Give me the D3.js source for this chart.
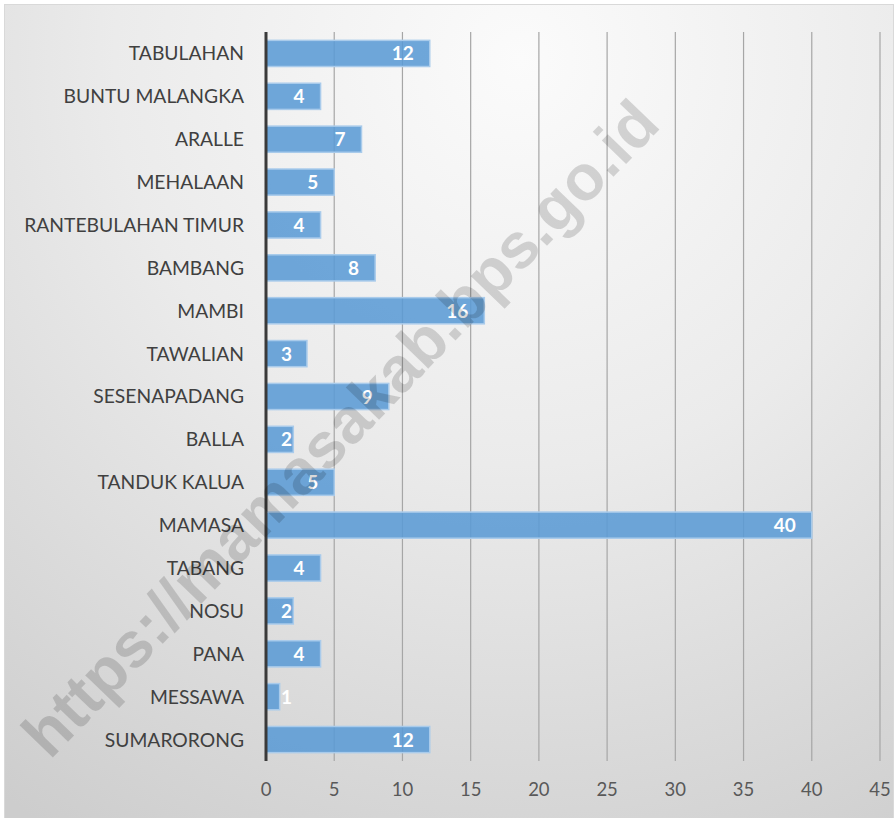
<!DOCTYPE html>
<html>
<head>
<meta charset="utf-8">
<script src="https://cdn.jsdelivr.net/npm/d3@7"></script>
<style>
	body { margin: 0; background: #fff; }
	svg { display: block; }
</style>
</head>
<body>
<svg id="chart"></svg>
<script>
'use strict'

const regions = ["TABULAHAN", "BUNTU MALANGKA", "ARALLE", "MEHALAAN", "RANTEBULAHAN TIMUR",
	"BAMBANG", "MAMBI", "TAWALIAN", "SESENAPADANG", "BALLA", "TANDUK KALUA", "MAMASA",
	"TABANG", "NOSU", "PANA", "MESSAWA", "SUMARORONG"]
const counts = [12, 4, 7, 5, 4, 8, 16, 3, 9, 2, 5, 40, 4, 2, 4, 1, 12]
const xTicks = [0, 5, 10, 15, 20, 25, 30, 35, 40, 45]
const watermark = "https://mamasakab.bps.go.id"

const width = 895, height = 818
const margin = {top: 32, right: 15, bottom: 57, left: 266}

const svg = d3.select("#chart").attr("width", width).attr("height", height)

// background
let defs = svg.append("defs")
let grad = defs.append("radialGradient").attr("id", "bg")
	.attr("gradientUnits", "userSpaceOnUse")
	.attr("cx", 520).attr("cy", 60).attr("r", 900)
grad.append("stop").attr("offset", "0%").attr("stop-color", "#fbfbfb")
grad.append("stop").attr("offset", "45%").attr("stop-color", "#ebebeb")
grad.append("stop").attr("offset", "100%").attr("stop-color", "#cdcdcd")

svg.append("rect")
	.attr("x", 4.5).attr("y", 4.5)
	.attr("width", width - 6).attr("height", height)
	.attr("fill", "url(#bg)")
	.attr("stroke", "#d9d9d9")

const x = d3.scaleLinear().domain([0, 45]).range([margin.left, width - margin.right])
const y = d3.scaleBand().domain(regions).range([margin.top, height - margin.bottom]).paddingInner(0.39).paddingOuter(0.195)

// grid
svg.append("g").selectAll("line")
	.data(xTicks.slice(1))
	.join("line")
	.attr("x1", d => x(d)).attr("x2", d => x(d))
	.attr("y1", margin.top).attr("y2", height - margin.bottom)
	.attr("stroke", "#a6a6a6").attr("stroke-width", 1.2)

// x tick labels
svg.append("g").selectAll("text")
	.data(xTicks)
	.join("text")
	.attr("x", d => x(d)).attr("y", 796)
	.attr("text-anchor", "middle")
	.attr("font-family", "Lato, 'Open Sans', sans-serif")
	.attr("font-size", 18.5)
	.attr("fill", "#595959")
	.text(d => d)

// bars
svg.append("g").selectAll("rect")
	.data(counts)
	.join("rect")
	.attr("x", x(0))
	.attr("y", (d, i) => y(regions[i]))
	.attr("width", d => x(d) - x(0))
	.attr("height", y.bandwidth())
	.attr("fill", "#5b9bd5").attr("fill-opacity", 0.88)
	.attr("stroke", "#a9cbeb").attr("stroke-width", 1.5)

// category labels
svg.append("g").selectAll("text")
	.data(regions)
	.join("text")
	.attr("x", 244)
	.attr("y", d => y(d) + y.bandwidth() / 2)
	.attr("dy", "0.36em")
	.attr("text-anchor", "end")
	.attr("font-family", "Lato, 'Open Sans', sans-serif")
	.attr("font-size", 19.3)
	.attr("fill", "#404040")
	.text(d => d)

// value labels
let vals = svg.append("g").selectAll("text")
	.data(counts)
	.join("text")
	.attr("y", (d, i) => y(regions[i]) + y.bandwidth() / 2)
	.attr("dy", "0.37em")
	.attr("font-family", "Lato, 'Open Sans', sans-serif")
	.attr("font-weight", "bold")
	.attr("font-size", 19)
	.attr("fill", "#fff")
	.text(d => d)
vals.each(function(d){
	let w = this.getComputedTextLength()
	let start = Math.max(x(0) + 15, x(d) - 16 - w)
	d3.select(this).attr("x", start)
})

// axis line
svg.append("line")
	.attr("x1", x(0)).attr("x2", x(0))
	.attr("y1", margin.top).attr("y2", height - margin.bottom)
	.attr("stroke", "#3a3a3a").attr("stroke-width", 3)

// watermark
svg.append("text")
	.attr("transform", "translate(340,428) rotate(-46)")
	.attr("text-anchor", "middle")
	.attr("dy", "0.35em")
	.attr("font-family", "'Liberation Sans', Arial, sans-serif")
	.attr("font-weight", "bold")
	.attr("font-size", 64)
	.attr("fill", "#000").attr("fill-opacity", 0.15)
	.text(watermark)
</script>
</body>
</html>
